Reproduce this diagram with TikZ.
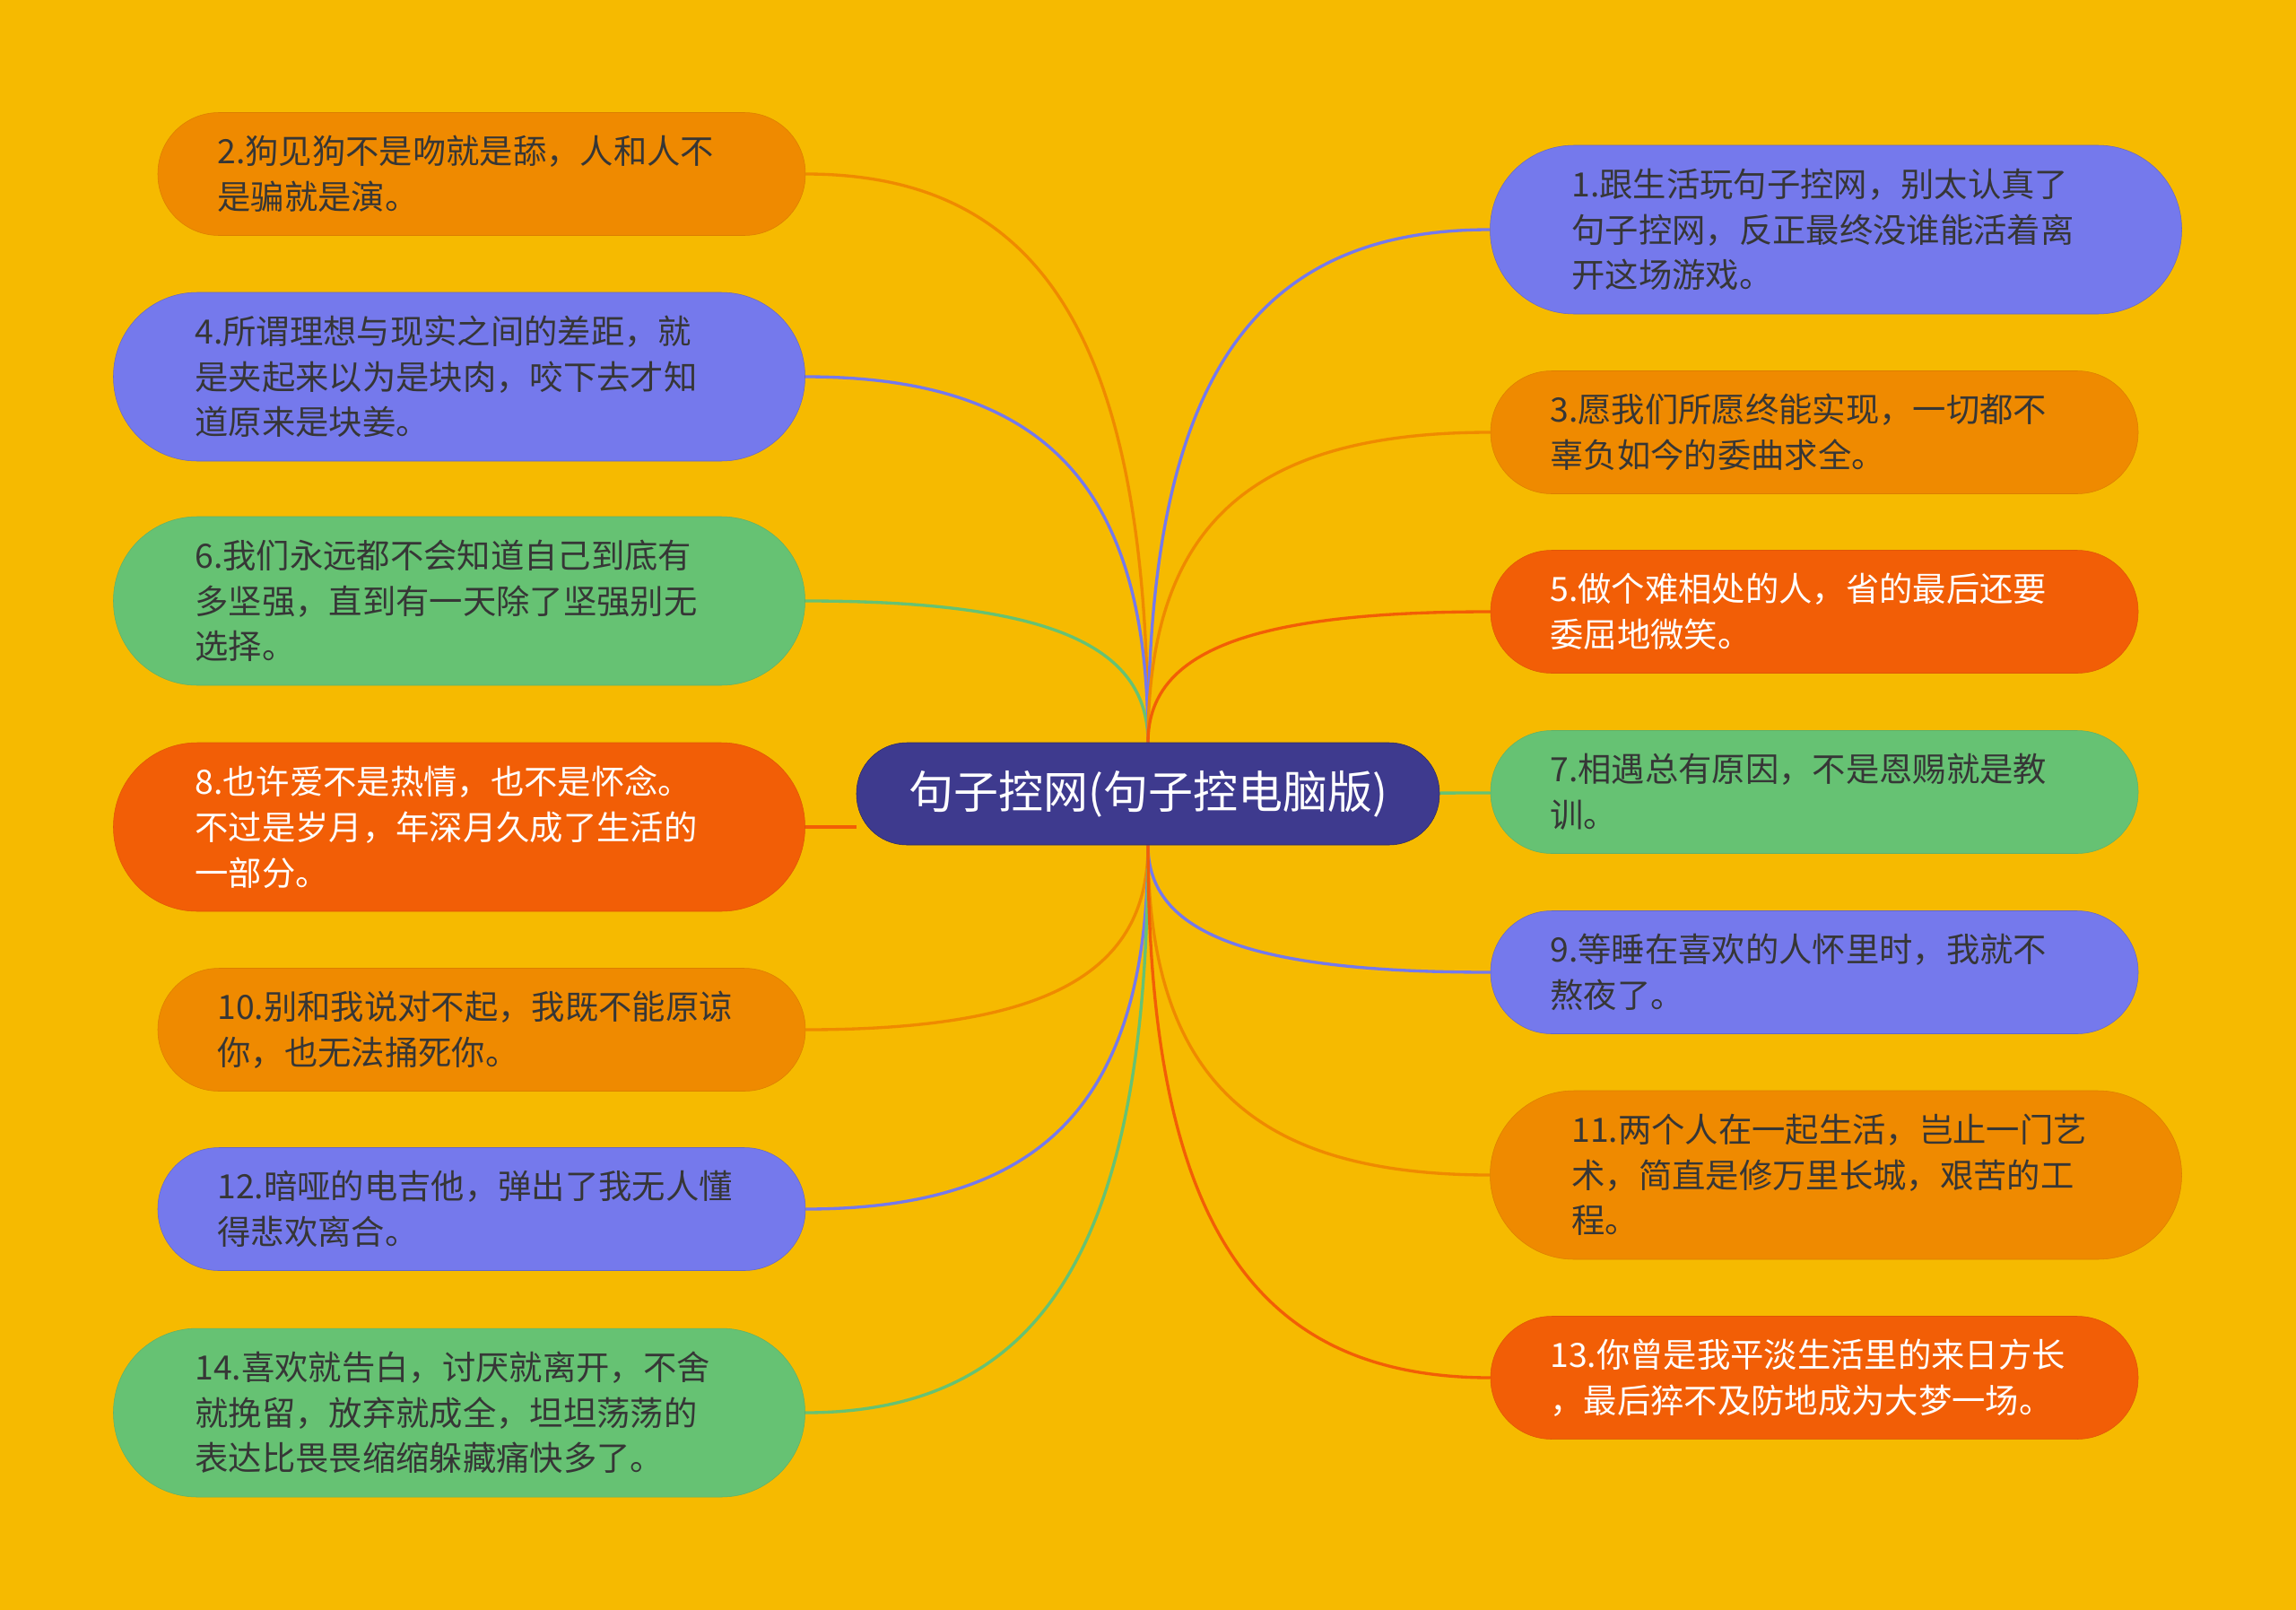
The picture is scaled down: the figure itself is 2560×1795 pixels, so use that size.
\documentclass[tikz,border=0pt]{standalone}
\usepackage{fontspec}
\setmainfont{Noto Sans CJK SC}
\usetikzlibrary{calc}

\definecolor{bgyellow}{HTML}{F6BA00}
\definecolor{boxorange}{HTML}{EF8A00}
\definecolor{boxpurple}{HTML}{7579EC}
\definecolor{boxgreen}{HTML}{66C273}
\definecolor{boxred}{HTML}{F25E06}
\definecolor{rootblue}{HTML}{3E3A8E}
\definecolor{darktext}{HTML}{363636}

\pgfdeclarelayer{paper}
\pgfdeclarelayer{links}
\pgfsetlayers{paper,links,main}

\tikzset{every picture/.style={line width=0.75pt}}
\tikzset{
  leaf/.style={text width=442pt, align=left, inner sep=0pt, text=darktext,
    font=\fontsize{28pt}{38pt}\selectfont},
  twoline/.style={leaf, minimum width=541.5pt, minimum height=102.75pt, rounded corners=51pt},
  threeline/.style={leaf, minimum width=578.25pt, minimum height=141pt, rounded corners=70pt},
  orangebox/.style={fill=boxorange, draw=boxorange!92!black},
  purplebox/.style={fill=boxpurple, draw=boxpurple!85!black},
  greenbox/.style={fill=boxgreen, draw=boxgreen!92!black},
  redbox/.style={fill=boxred, draw=boxred!92!black, text=white},
  root/.style={fill=rootblue, draw=rootblue!70!black, text=white, inner sep=0pt,
    minimum width=487.5pt, minimum height=85.5pt, rounded corners=42pt,
    font=\fontsize{37.5pt}{45pt}\selectfont},
  branch/.style={line width=2.5pt, to path={.. controls ($(\tikztostart)!0.7!(\tikztostart |- \tikztotarget)$) and ($(\tikztotarget)!0.7!(\tikztostart |- \tikztotarget)$) .. (\tikztotarget)}},
}

\begin{document}
\begin{tikzpicture}[x=0.75pt,y=0.75pt,yscale=-1,xscale=1]
\begin{pgfonlayer}{paper}
\fill [bgyellow] (0,0) rectangle (2560,1795);
\end{pgfonlayer}
\useasboundingbox (0,0) rectangle (2560,1795);

% Root Node
\node [root] (c) at (1280,885) {句子控网(句子控电脑版)};

% Left Nodes
\node [twoline, orangebox] (n2) at (537,194) {2.狗见狗不是吻就是舔，人和人不\\是骗就是演。};
\node [threeline, purplebox] (n4) at (512,420) {4.所谓理想与现实之间的差距，就\\是夹起来以为是块肉，咬下去才知\\道原来是块姜。};
\node [threeline, greenbox] (n6) at (512,670) {6.我们永远都不会知道自己到底有\\多坚强，直到有一天除了坚强别无\\选择。};
\node [threeline, redbox] (n8) at (512,922) {8.也许爱不是热情，也不是怀念。\\不过是岁月，年深月久成了生活的\\一部分。};
\node [twoline, orangebox] (n10) at (537,1148) {10.别和我说对不起，我既不能原谅\\你，也无法捅死你。};
\node [twoline, purplebox] (n12) at (537,1348) {12.暗哑的电吉他，弹出了我无人懂\\得悲欢离合。};
\node [threeline, greenbox] (n14) at (512,1575) {14.喜欢就告白，讨厌就离开，不舍\\就挽留，放弃就成全，坦坦荡荡的\\表达比畏畏缩缩躲藏痛快多了。};

% Right Nodes
\node [threeline, purplebox] (n1) at (2047,256) {1.跟生活玩句子控网，别太认真了\\句子控网，反正最终没谁能活着离\\开这场游戏。};
\node [twoline, orangebox] (n3) at (2023,482) {3.愿我们所愿终能实现，一切都不\\辜负如今的委曲求全。};
\node [twoline, redbox] (n5) at (2023,682) {5.做个难相处的人，省的最后还要\\委屈地微笑。};
\node [twoline, greenbox] (n7) at (2023,883) {7.相遇总有原因，不是恩赐就是教\\训。};
\node [twoline, purplebox] (n9) at (2023,1084) {9.等睡在喜欢的人怀里时，我就不\\熬夜了。};
\node [threeline, orangebox] (n11) at (2047,1310) {11.两个人在一起生活，岂止一门艺\\术，简直是修万里长城，艰苦的工\\程。};
\node [twoline, redbox] (n13) at (2023,1536) {13.你曾是我平淡生活里的来日方长\\，最后猝不及防地成为大梦一场。};

% Connectors
\begin{pgfonlayer}{links}
\draw [branch, draw=boxorange] (c.north) to (n2.east);
\draw [branch, draw=boxpurple] (c.north) to (n4.east);
\draw [branch, draw=boxgreen] (c.north) to (n6.east);
\draw [line width=2.5pt, draw=boxred] (c.west |- n8) -- (n8.east);
\draw [branch, draw=boxorange] (c.south) to (n10.east);
\draw [branch, draw=boxpurple] (c.south) to (n12.east);
\draw [branch, draw=boxgreen] (c.south) to (n14.east);
\draw [branch, draw=boxpurple] (c.north) to (n1.west);
\draw [branch, draw=boxorange] (c.north) to (n3.west);
\draw [branch, draw=boxred] (c.north) to (n5.west);
\draw [line width=2.5pt, draw=boxgreen] (c) -- (n7);
\draw [branch, draw=boxpurple] (c.south) to (n9.west);
\draw [branch, draw=boxorange] (c.south) to (n11.west);
\draw [branch, draw=boxred] (c.south) to (n13.west);
\end{pgfonlayer}

\end{tikzpicture}
\end{document}
